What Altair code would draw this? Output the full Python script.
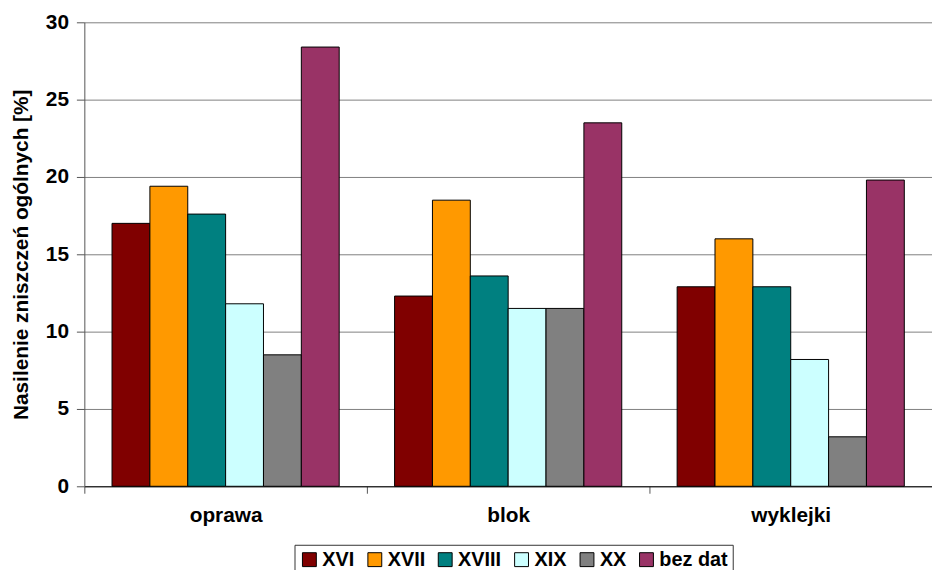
import altair as alt
import pandas as pd

categories = ["oprawa", "blok", "wyklejki"]
series = ["XVI", "XVII", "XVIII", "XIX", "XX", "bez dat"]
colors = ["#800000", "#FF9900", "#008080", "#CCFFFF", "#808080", "#993366"]

v_XVI = [17.0, 12.3, 12.9]
v_XVII = [19.4, 18.5, 16.0]
v_XVIII = [17.6, 13.6, 12.9]
v_XIX = [11.8, 11.5, 8.2]
v_XX = [8.5, 11.5, 3.2]
v_bez_dat = [28.4, 23.5, 19.8]

y_ticks = [0, 5, 10, 15, 20, 25, 30]

values = [v_XVI, v_XVII, v_XVIII, v_XIX, v_XX, v_bez_dat]
rows = []
for s, vals in zip(series, values):
    for c, v in zip(categories, vals):
        rows.append({"kategoria": c, "seria": s, "wartosc": v})
df = pd.DataFrame(rows)

FONT = "Liberation Sans"

chart = alt.Chart(df).mark_bar(stroke="black", strokeWidth=1).encode(
    x=alt.X(
        "kategoria:N",
        sort=categories,
        scale=alt.Scale(paddingInner=0.196, paddingOuter=0.098),
        axis=alt.Axis(
            title=None,
            labelAngle=0,
            labelFont=FONT,
            labelFontSize=21,
            labelFontWeight="bold",
            labelColor="black",
            labelPadding=12,
            bandPosition=0,
            tickOffset=-28,
            labelOffset=28,
            tickSize=7,
            tickColor="#555555",
            domainColor="black",
            domainWidth=1,
            grid=False,
        ),
    ),
    xOffset=alt.XOffset("seria:N", sort=series, scale=alt.Scale(paddingInner=0, paddingOuter=0)),
    y=alt.Y(
        "wartosc:Q",
        scale=alt.Scale(domain=[0, 30], nice=False),
        axis=alt.Axis(
            values=y_ticks,
            title="Nasilenie zniszczeń ogólnych [%]",
            titleFont=FONT,
            titleFontSize=21,
            titleFontWeight="bold",
            titleColor="black",
            titlePadding=14,
            labelFont=FONT,
            labelFontSize=21,
            labelFontWeight="bold",
            labelColor="black",
            labelPadding=8,
            tickSize=8,
            tickColor="#555555",
            domainColor="#555555",
            grid=True,
            gridColor="#808080",
            gridWidth=1,
        ),
    ),
    color=alt.Color(
        "seria:N",
        sort=series,
        scale=alt.Scale(domain=series, range=colors),
        legend=alt.Legend(
            title=None,
            orient="none",
            legendX=212,
            legendY=527,
            direction="horizontal",
            labelFont=FONT,
            labelFontSize=20,
            labelFontWeight="bold",
            labelColor="black",
            labelOffset=3,
            labelLimit=300,
            symbolType="square",
            symbolSize=196,
            symbolStrokeColor="black",
            symbolStrokeWidth=1,
            symbolOpacity=1,
            columnPadding=10,
            padding=5,
            strokeColor="#333333",
        ),
    ),
).properties(
    width=855,
    height=468,
    autosize=alt.AutoSizeParams(type="none"),
    padding={"left": 77, "top": 12, "right": 0, "bottom": 82},
    background="white",
).configure_view(stroke=None)

chart.save("out.html", embed_options={"renderer": "svg", "actions": False})
